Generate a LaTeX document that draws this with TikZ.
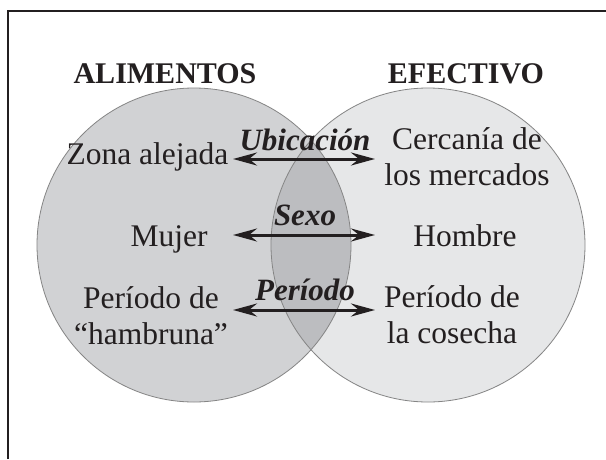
\documentclass[tikz,border=0pt]{standalone}
\usepackage{fontspec}
\setmainfont{Liberation Serif}
\usetikzlibrary{arrows.meta}
\definecolor{ink}{HTML}{231F20}
\definecolor{leftfill}{HTML}{D1D2D4}
\definecolor{rightfill}{HTML}{E6E7E8}
\definecolor{lensfill}{HTML}{BCBDC0}
\definecolor{rimgray}{HTML}{858585}
\tikzset{
  txt/.style={inner sep=0pt, text=ink, font=\fontsize{31.5}{36}\selectfont, align=center},
  ttl/.style={txt, font=\fontsize{30}{36}\selectfont\bfseries},
  lbl/.style={txt, font=\fontsize{31}{36}\selectfont\bfseries\itshape},
  arr/.style={draw=ink, line width=3pt, {Stealth[length=24pt,width=13pt,inset=8pt]}-{Stealth[length=24pt,width=13pt,inset=8pt]}},
  rim/.style={draw=rimgray, line width=0.8pt},
  frame/.style={draw=ink, line width=2pt}
}
\begin{document}
\begin{tikzpicture}[x=1pt,y=-1pt]
\useasboundingbox (0,0) rectangle (606,459);
\fill[white] (0,0) rectangle (606,459);
% frame (top and left edges visible)
\draw[frame] (8,459) -- (8,11) -- (606,11);
% circles
\coordinate (cl) at (194,245);
\coordinate (cr) at (428,245);
\fill[leftfill] (cl) circle[radius=157];
\fill[rightfill] (cr) circle[radius=157];
\begin{scope}
  \clip (cl) circle[radius=157];
  \fill[lensfill] (cr) circle[radius=157];
\end{scope}
\draw[rim] (cl) circle[radius=157];
\draw[rim] (cr) circle[radius=157];
% titles
\node[ttl, anchor=base] (t1) at (165,83) {ALIMENTOS};
\node[ttl, anchor=base] (t2) at (466,83) {EFECTIVO};
% row 1
\node[txt, anchor=base] (zona) at (147.5,164) {Zona alejada};
\node[txt] (cerc) at (467,157) {Cercanía de\\los mercados};
\node[lbl, anchor=base] (ubi) at (305,150) {Ubicación};
\coordinate (u1) at (233,159);
\coordinate (u2) at (375,159);
\draw[arr] (u1) -- (u2);
% row 2
\node[txt, anchor=base] (mujer) at (169,246) {Mujer};
\node[txt, anchor=base] (hombre) at (465,246) {Hombre};
\node[lbl, anchor=base] (sexo) at (305,225) {Sexo};
\coordinate (s1) at (233,235);
\coordinate (s2) at (375,235);
\draw[arr] (s1) -- (s2);
% row 3
\node[txt] (hamb) at (151,316) {Período de\\“hambruna”};
\node[txt] (cose) at (452,315) {Período de\\la cosecha};
\node[lbl, anchor=base] (per) at (305,300) {Período};
\coordinate (p1) at (233,310);
\coordinate (p2) at (375,310);
\draw[arr] (p1) -- (p2);
\end{tikzpicture}
\end{document}
